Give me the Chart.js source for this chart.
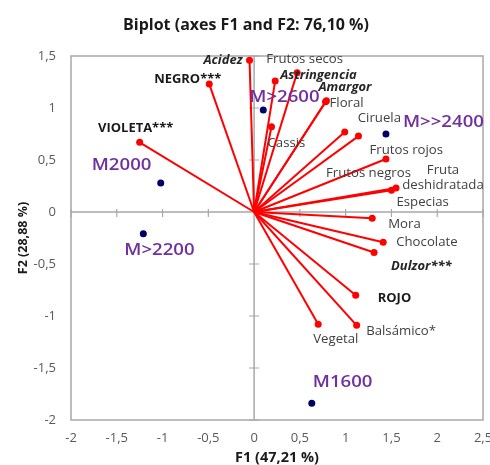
<!DOCTYPE html>
<html>
<head>
<meta charset="utf-8">
<script src="https://cdn.jsdelivr.net/npm/chart.js@4.4.1/dist/chart.umd.min.js"></script>
<style>
html,body{margin:0;padding:0;background:#fff;}
#wrap{width:490px;height:465px;}
</style>
</head>
<body>
<div id="wrap"><canvas id="c" width="490" height="465"></canvas></div>
<script>
// ---------- data ----------
const chartTitle = 'Biplot (axes F1 and F2: 76,10 %)';
const xAxisTitle = 'F1 (47,21 %)';
const yAxisTitle = 'F2 (28,88 %)';

const variableNames = ['Acidez','NEGRO***','VIOLETA***','Frutos secos','Astringencia','Amargor','Floral','Cassis','Ciruela','Frutos rojos','Frutos negros','Fruta deshidratada','Especias','Mora','Chocolate','Dulzor***','ROJO','Vegetal','Balsámico*'];
const variableF1 = [-0.05,-0.49,-1.25,0.23,0.47,0.79,0.78,0.19,0.99,1.14,1.44,1.55,1.50,1.29,1.41,1.31,1.11,0.70,1.12];
const variableF2 = [1.46,1.23,0.67,1.26,1.34,1.07,1.06,0.82,0.77,0.73,0.51,0.23,0.21,-0.06,-0.29,-0.39,-0.80,-1.08,-1.09];

const observationNames = ['M>2600','M>>2400','M2000','M>2200','M1600'];
const observationF1 = [0.10,1.44,-1.02,-1.21,0.63];
const observationF2 = [0.98,0.75,0.28,-0.21,-1.84];

const xTickValues = [-2,-1.5,-1,-0.5,0,0.5,1,1.5,2,2.5];
const xTickLabels = ['-2','-1,5','-1','-0,5','0','0,5','1','1,5','2','2,5'];
const yTickValues = [-2,-1.5,-1,-0.5,0,0.5,1,1.5];
const yTickLabels = ['-2','-1,5','-1','-0,5','0','0,5','1','1,5'];

// ---------- label layout / styles (pixel offsets from each point) ----------
const FONT = '"Open Sans", sans-serif';
const labelStyles = {
  normal:     {font: '12px ' + FONT,             color: '#404040', sx: 1.1},
  bold:       {font: 'bold 12px ' + FONT,        color: '#1a1a1a', sx: 1.08},
  boldItalic: {font: 'italic bold 12px ' + FONT, color: '#262626', sx: 1.08},
  obs:        {font: '600 15.5px ' + FONT,       color: '#7030A0', sx: 1.2}
};
const variableLabelLayout = [
  {dx:-7,   dy:0,     align:'right',  style:'boldItalic'},
  {dx:-21.5,dy:-5,    align:'center', style:'bold'},
  {dx:-4,   dy:-14,   align:'center', style:'bold'},
  {dx:-9,   dy:-21,   align:'left',   style:'normal'},
  {dx:-17,  dy:3,     align:'left',   style:'boldItalic'},
  {dx:-8,   dy:-13.5, align:'left',   style:'boldItalic'},
  {dx:4,    dy:1.5,   align:'left',   style:'normal'},
  {dx:-4,   dy:17,    align:'left',   style:'normal'},
  {dx:13,   dy:-13.5, align:'left',   style:'normal'},
  {dx:11,   dy:14,    align:'left',   style:'normal'},
  {dx:-60,  dy:15,    align:'left',   style:'normal'},
  {dx:47,   dy:-10.5, align:'center', style:'normal', wrap:true, lineGap:15},
  {dx:5,    dy:12,    align:'left',   style:'normal'},
  {dx:16,   dy:6,     align:'left',   style:'normal'},
  {dx:13,   dy:0,     align:'left',   style:'normal'},
  {dx:17,   dy:14,    align:'left',   style:'boldItalic'},
  {dx:22,   dy:3,     align:'left',   style:'bold'},
  {dx:-5,   dy:15,    align:'left',   style:'normal'},
  {dx:9.5,  dy:6,     align:'left',   style:'normal'}
];
const observationLabelLayout = [
  {dx:-14, dy:-13,  align:'left', style:'obs'},
  {dx:17,  dy:-11.5,align:'left', style:'obs'},
  {dx:-69, dy:-17,  align:'left', style:'obs'},
  {dx:-19, dy:17,   align:'left', style:'obs'},
  {dx:1,   dy:-21,  align:'left', style:'obs'}
];

const AXIS_GREY = '#A8A8A8';

function drawText(ctx, text, x, y, align, st) {
  ctx.save();
  ctx.font = st.font;
  ctx.fillStyle = st.color;
  ctx.textAlign = align;
  ctx.textBaseline = 'middle';
  ctx.translate(x, y);
  ctx.scale(st.sx, 1);
  ctx.fillText(text, 0, 0);
  ctx.restore();
}

const frameAndAxes = {
  id: 'frameAndAxes',
  beforeDatasetsDraw(chart) {
    const {ctx, chartArea: a, scales: {x, y}} = chart;
    ctx.save();
    ctx.strokeStyle = AXIS_GREY;
    ctx.lineWidth = 1.5;
    ctx.strokeRect(a.left, a.top, a.right - a.left, a.bottom - a.top);
    const x0 = x.getPixelForValue(0), y0 = y.getPixelForValue(0);
    ctx.beginPath();
    ctx.moveTo(x0, a.top); ctx.lineTo(x0, a.bottom);
    ctx.moveTo(a.left, y0); ctx.lineTo(a.right, y0);
    ctx.stroke();
    ctx.lineWidth = 1.2;
    ctx.beginPath();
    xTickValues.forEach(v => {
      if (v === 0) return;
      const px = x.getPixelForValue(v);
      ctx.moveTo(px, y0 - 3); ctx.lineTo(px, y0 + 5);
    });
    yTickValues.forEach(v => {
      if (v === 0) return;
      const py = y.getPixelForValue(v);
      ctx.moveTo(x0 - 5, py); ctx.lineTo(x0 + 5, py);
    });
    ctx.stroke();
    ctx.restore();
  },
  afterDatasetsDraw(chart) {
    const {ctx, scales: {x, y}} = chart;
    variableNames.forEach((name, i) => {
      const L = variableLabelLayout[i];
      const px = x.getPixelForValue(variableF1[i]) + L.dx;
      const py = y.getPixelForValue(variableF2[i]) + L.dy;
      const st = labelStyles[L.style];
      if (L.wrap) {
        const parts = name.split(' ');
        const n = parts.length;
        parts.forEach((p, k) => drawText(ctx, p, px, py + (k - (n - 1) / 2) * L.lineGap, L.align, st));
      } else {
        drawText(ctx, name, px, py, L.align, st);
      }
    });
    observationNames.forEach((name, i) => {
      const L = observationLabelLayout[i];
      const px = x.getPixelForValue(observationF1[i]) + L.dx;
      const py = y.getPixelForValue(observationF2[i]) + L.dy;
      drawText(ctx, name, px, py, L.align, labelStyles[L.style]);
    });
    // chart title
    drawText(ctx, chartTitle, 246, 25, 'center', {font: 'bold 16px ' + FONT, color: '#1a1a1a', sx: 1});
  }
};

function tickLabel(values, labels) {
  return v => {
    const i = values.findIndex(t => Math.abs(t - v) < 1e-9);
    return i >= 0 ? labels[i] : '';
  };
}

const vectorDatasets = variableNames.map((name, i) => ({
  label: name,
  data: [{x: 0, y: 0}, {x: variableF1[i], y: variableF2[i]}],
  showLine: true,
  borderColor: '#FF0000',
  backgroundColor: '#FF0000',
  borderWidth: 2,
  pointRadius: [0, 3.5],
  pointHoverRadius: [0, 3.5],
  pointBorderWidth: 0
}));

const observationDataset = {
  label: 'Observations',
  data: observationF1.map((v, i) => ({x: v, y: observationF2[i]})),
  showLine: false,
  backgroundColor: '#000066',
  borderColor: '#000066',
  pointRadius: 3.5,
  pointBorderWidth: 0
};

new Chart(document.getElementById('c'), {
  type: 'scatter',
  data: {datasets: [...vectorDatasets, observationDataset]},
  options: {
    responsive: false,
    animation: false,
    devicePixelRatio: 1,
    layout: {padding: {top: 56, right: 7, bottom: 0, left: 0}},
    plugins: {legend: {display: false}, tooltip: {enabled: false}, title: {display: false}},
    scales: {
      x: {
        type: 'linear', position: 'bottom', min: -2, max: 2.5,
        afterFit: s => { s.height = 45; s.paddingLeft = 0; s.paddingRight = 0; },
        grid: {display: false, drawTicks: false},
        border: {display: false},
        ticks: {stepSize: 0.5, autoSkip: false, maxRotation: 0, padding: 10,
                color: '#595959', font: {family: FONT, size: 13},
                callback: tickLabel(xTickValues, xTickLabels)},
        title: {display: true, text: xAxisTitle, color: '#1a1a1a',
                font: {family: FONT, size: 14.5, weight: 'bold', lineHeight: 1},
                padding: {top: 0, bottom: 0}}
      },
      y: {
        type: 'linear', position: 'left', min: -2, max: 1.5,
        afterFit: s => { s.width = 71; s.paddingTop = 0; s.paddingBottom = 0; },
        grid: {display: false, drawTicks: false},
        border: {display: false},
        ticks: {stepSize: 0.5, autoSkip: false, padding: 15,
                color: '#595959', font: {family: FONT, size: 13},
                callback: tickLabel(yTickValues, yTickLabels)},
        title: {display: true, text: yAxisTitle, color: '#1a1a1a',
                font: {family: FONT, size: 12.5, weight: 'bold', lineHeight: 1},
                padding: {top: 17, bottom: 0}}
      }
    }
  },
  plugins: [frameAndAxes]
});
</script>
</body>
</html>
